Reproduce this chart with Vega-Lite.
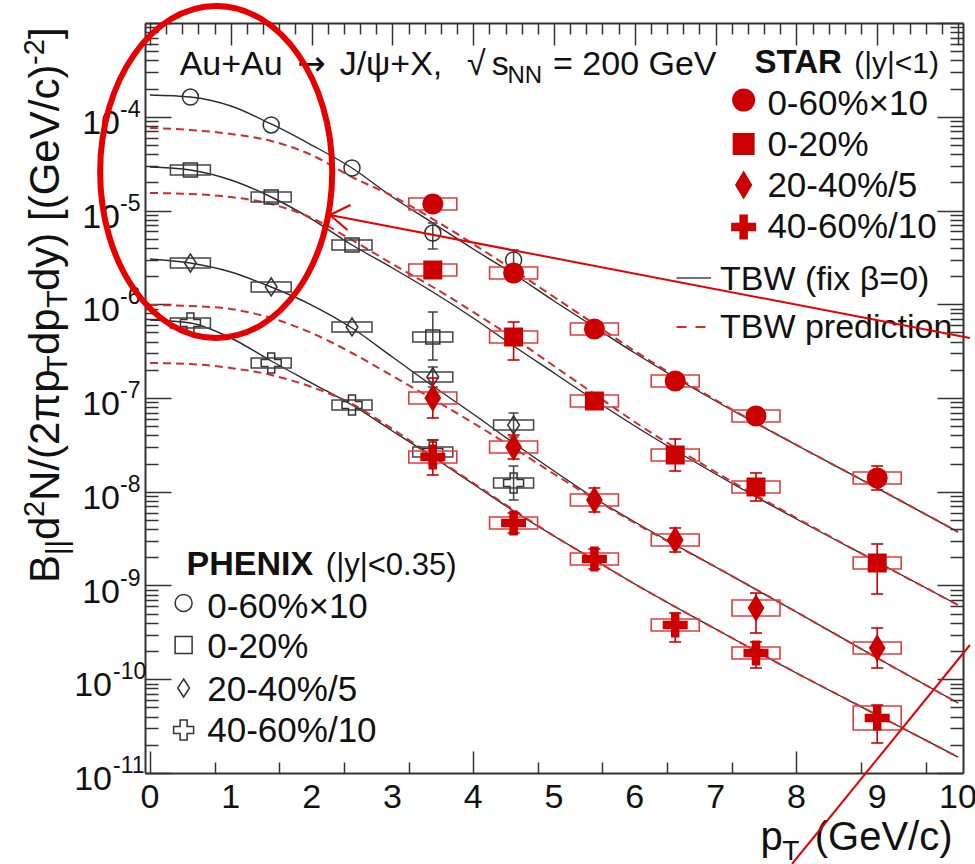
{
  "$schema": "https://vega.github.io/schema/vega-lite/v6.json",
  "width": 818,
  "height": 750,
  "autosize": {"type": "none"},
  "padding": {"left": 145, "top": 23, "right": 12, "bottom": 91},
  "background": "#ffffff",
  "config": {
    "view": {"stroke": null},
    "axis": {"domainColor": "#333333", "domainWidth": 2, "tickColor": "#333333", "tickWidth": 1.5, "labels": false, "grid": false},
    "text": {"font": "Liberation Sans", "fontSize": 34, "align": "left", "baseline": "alphabetic", "color": "#111111"},
    "line": {"interpolate": "monotone"}
  },
  "data": {"values": [{}]},
  "datasets": {
    "curves": [
      {"m": "fix", "c": "0-60%×10", "pt": 0, "y": 1.706e-4}, {"m": "fix", "c": "0-60%×10", "pt": 0.5, "y": 1.624e-4}, {"m": "fix", "c": "0-60%×10", "pt": 1, "y": 1.302e-4}, {"m": "fix", "c": "0-60%×10", "pt": 1.5, "y": 8.37e-5}, {"m": "fix", "c": "0-60%×10", "pt": 2, "y": 4.995e-5}, {"m": "fix", "c": "0-60%×10", "pt": 2.5, "y": 2.84e-5}, {"m": "fix", "c": "0-60%×10", "pt": 3, "y": 1.393e-5}, {"m": "fix", "c": "0-60%×10", "pt": 3.5, "y": 7.356e-6}, {"m": "fix", "c": "0-60%×10", "pt": 4, "y": 3.885e-6}, {"m": "fix", "c": "0-60%×10", "pt": 4.5, "y": 2.102e-6}, {"m": "fix", "c": "0-60%×10", "pt": 5, "y": 1.083e-6}, {"m": "fix", "c": "0-60%×10", "pt": 5.5, "y": 5.72e-7}, {"m": "fix", "c": "0-60%×10", "pt": 6, "y": 3.02e-7}, {"m": "fix", "c": "0-60%×10", "pt": 7, "y": 9.29e-8}, {"m": "fix", "c": "0-60%×10", "pt": 8, "y": 3.153e-8}, {"m": "fix", "c": "0-60%×10", "pt": 9, "y": 1.096e-8}, {"m": "fix", "c": "0-60%×10", "pt": 10, "y": 3.721e-9},
      {"m": "pred", "c": "0-60%×10", "pt": 0, "y": 7.586e-5}, {"m": "pred", "c": "0-60%×10", "pt": 0.5, "y": 7.222e-5}, {"m": "pred", "c": "0-60%×10", "pt": 1, "y": 6.546e-5}, {"m": "pred", "c": "0-60%×10", "pt": 1.5, "y": 5.513e-5}, {"m": "pred", "c": "0-60%×10", "pt": 2, "y": 3.908e-5}, {"m": "pred", "c": "0-60%×10", "pt": 2.5, "y": 2.277e-5}, {"m": "pred", "c": "0-60%×10", "pt": 3, "y": 1.428e-5}, {"m": "pred", "c": "0-60%×10", "pt": 3.5, "y": 8.11e-6}, {"m": "pred", "c": "0-60%×10", "pt": 4, "y": 4.392e-6}, {"m": "pred", "c": "0-60%×10", "pt": 4.5, "y": 2.319e-6}, {"m": "pred", "c": "0-60%×10", "pt": 5, "y": 1.195e-6}, {"m": "pred", "c": "0-60%×10", "pt": 5.5, "y": 6.157e-7}, {"m": "pred", "c": "0-60%×10", "pt": 6, "y": 3.172e-7}, {"m": "pred", "c": "0-60%×10", "pt": 7, "y": 9.52e-8}, {"m": "pred", "c": "0-60%×10", "pt": 8, "y": 3.153e-8}, {"m": "pred", "c": "0-60%×10", "pt": 9, "y": 1.096e-8}, {"m": "pred", "c": "0-60%×10", "pt": 10, "y": 3.721e-9},
      {"m": "fix", "c": "0-20%", "pt": 0, "y": 2.911e-5}, {"m": "fix", "c": "0-20%", "pt": 0.5, "y": 2.704e-5}, {"m": "fix", "c": "0-20%", "pt": 1, "y": 2.115e-5}, {"m": "fix", "c": "0-20%", "pt": 1.5, "y": 1.393e-5}, {"m": "fix", "c": "0-20%", "pt": 2, "y": 8.11e-6}, {"m": "fix", "c": "0-20%", "pt": 2.5, "y": 4.285e-6}, {"m": "fix", "c": "0-20%", "pt": 3, "y": 2.436e-6}, {"m": "fix", "c": "0-20%", "pt": 3.5, "y": 1.351e-6}, {"m": "fix", "c": "0-20%", "pt": 4, "y": 7.135e-7}, {"m": "fix", "c": "0-20%", "pt": 4.5, "y": 3.586e-7}, {"m": "fix", "c": "0-20%", "pt": 5, "y": 1.848e-7}, {"m": "fix", "c": "0-20%", "pt": 5.5, "y": 9.52e-8}, {"m": "fix", "c": "0-20%", "pt": 6, "y": 5.027e-8}, {"m": "fix", "c": "0-20%", "pt": 7, "y": 1.547e-8}, {"m": "fix", "c": "0-20%", "pt": 8, "y": 5.121e-9}, {"m": "fix", "c": "0-20%", "pt": 9, "y": 1.781e-9}, {"m": "fix", "c": "0-20%", "pt": 10, "y": 6.194e-10},
      {"m": "pred", "c": "0-20%", "pt": 0, "y": 1.537e-5}, {"m": "pred", "c": "0-20%", "pt": 0.5, "y": 1.5e-5}, {"m": "pred", "c": "0-20%", "pt": 1, "y": 1.393e-5}, {"m": "pred", "c": "0-20%", "pt": 1.5, "y": 1.173e-5}, {"m": "pred", "c": "0-20%", "pt": 2, "y": 8.318e-6}, {"m": "pred", "c": "0-20%", "pt": 2.5, "y": 4.845e-6}, {"m": "pred", "c": "0-20%", "pt": 3, "y": 2.687e-6}, {"m": "pred", "c": "0-20%", "pt": 3.5, "y": 1.528e-6}, {"m": "pred", "c": "0-20%", "pt": 4, "y": 8.268e-7}, {"m": "pred", "c": "0-20%", "pt": 4.5, "y": 4.365e-7}, {"m": "pred", "c": "0-20%", "pt": 5, "y": 2.194e-7}, {"m": "pred", "c": "0-20%", "pt": 5.5, "y": 1.103e-7}, {"m": "pred", "c": "0-20%", "pt": 6, "y": 5.546e-8}, {"m": "pred", "c": "0-20%", "pt": 7, "y": 1.624e-8}, {"m": "pred", "c": "0-20%", "pt": 8, "y": 5.248e-9}, {"m": "pred", "c": "0-20%", "pt": 9, "y": 1.781e-9}, {"m": "pred", "c": "0-20%", "pt": 10, "y": 6.194e-10},
      {"m": "fix", "c": "20-40%/5", "pt": 0, "y": 3.039e-6}, {"m": "fix", "c": "20-40%/5", "pt": 0.5, "y": 2.754e-6}, {"m": "fix", "c": "20-40%/5", "pt": 1, "y": 2.208e-6}, {"m": "fix", "c": "20-40%/5", "pt": 1.5, "y": 1.528e-6}, {"m": "fix", "c": "20-40%/5", "pt": 2, "y": 9.817e-7}, {"m": "fix", "c": "20-40%/5", "pt": 2.5, "y": 5.581e-7}, {"m": "fix", "c": "20-40%/5", "pt": 3, "y": 2.737e-7}, {"m": "fix", "c": "20-40%/5", "pt": 3.5, "y": 1.343e-7}, {"m": "fix", "c": "20-40%/5", "pt": 4, "y": 6.75e-8}, {"m": "fix", "c": "20-40%/5", "pt": 4.5, "y": 3.311e-8}, {"m": "fix", "c": "20-40%/5", "pt": 5, "y": 1.665e-8}, {"m": "fix", "c": "20-40%/5", "pt": 5.5, "y": 8.577e-9}, {"m": "fix", "c": "20-40%/5", "pt": 6, "y": 4.757e-9}, {"m": "fix", "c": "20-40%/5", "pt": 7, "y": 1.575e-9}, {"m": "fix", "c": "20-40%/5", "pt": 8, "y": 5.215e-10}, {"m": "fix", "c": "20-40%/5", "pt": 9, "y": 1.685e-10}, {"m": "fix", "c": "20-40%/5", "pt": 10, "y": 5.581e-11},
      {"m": "pred", "c": "20-40%/5", "pt": 0, "y": 9.817e-7}, {"m": "pred", "c": "20-40%/5", "pt": 0.5, "y": 9.579e-7}, {"m": "pred", "c": "20-40%/5", "pt": 1, "y": 8.897e-7}, {"m": "pred", "c": "20-40%/5", "pt": 1.5, "y": 7.135e-7}, {"m": "pred", "c": "20-40%/5", "pt": 2, "y": 4.934e-7}, {"m": "pred", "c": "20-40%/5", "pt": 2.5, "y": 3.02e-7}, {"m": "pred", "c": "20-40%/5", "pt": 3, "y": 1.717e-7}, {"m": "pred", "c": "20-40%/5", "pt": 3.5, "y": 9.757e-8}, {"m": "pred", "c": "20-40%/5", "pt": 4, "y": 5.412e-8}, {"m": "pred", "c": "20-40%/5", "pt": 4.5, "y": 2.929e-8}, {"m": "pred", "c": "20-40%/5", "pt": 5, "y": 1.547e-8}, {"m": "pred", "c": "20-40%/5", "pt": 5.5, "y": 8.37e-9}, {"m": "pred", "c": "20-40%/5", "pt": 6, "y": 4.642e-9}, {"m": "pred", "c": "20-40%/5", "pt": 7, "y": 1.575e-9}, {"m": "pred", "c": "20-40%/5", "pt": 8, "y": 5.215e-10}, {"m": "pred", "c": "20-40%/5", "pt": 9, "y": 1.685e-10}, {"m": "pred", "c": "20-40%/5", "pt": 10, "y": 5.581e-11},
      {"m": "fix", "c": "40-60%/10", "pt": 0, "y": 6.792e-7}, {"m": "fix", "c": "40-60%/10", "pt": 0.5, "y": 6.31e-7}, {"m": "fix", "c": "40-60%/10", "pt": 1, "y": 4.365e-7}, {"m": "fix", "c": "40-60%/10", "pt": 1.5, "y": 2.481e-7}, {"m": "fix", "c": "40-60%/10", "pt": 2, "y": 1.445e-7}, {"m": "fix", "c": "40-60%/10", "pt": 2.5, "y": 8.42e-8}, {"m": "fix", "c": "40-60%/10", "pt": 3, "y": 4.446e-8}, {"m": "fix", "c": "40-60%/10", "pt": 3.5, "y": 2.348e-8}, {"m": "fix", "c": "40-60%/10", "pt": 4, "y": 1.21e-8}, {"m": "fix", "c": "40-60%/10", "pt": 4.5, "y": 6.232e-9}, {"m": "fix", "c": "40-60%/10", "pt": 5, "y": 3.373e-9}, {"m": "fix", "c": "40-60%/10", "pt": 5.5, "y": 1.871e-9}, {"m": "fix", "c": "40-60%/10", "pt": 6, "y": 1.038e-9}, {"m": "fix", "c": "40-60%/10", "pt": 7, "y": 3.436e-10}, {"m": "fix", "c": "40-60%/10", "pt": 8, "y": 1.166e-10}, {"m": "fix", "c": "40-60%/10", "pt": 9, "y": 4.156e-11}, {"m": "fix", "c": "40-60%/10", "pt": 10, "y": 1.481e-11},
      {"m": "pred", "c": "40-60%/10", "pt": 0, "y": 2.362e-7}, {"m": "pred", "c": "40-60%/10", "pt": 0.5, "y": 2.305e-7}, {"m": "pred", "c": "40-60%/10", "pt": 1, "y": 2.089e-7}, {"m": "pred", "c": "40-60%/10", "pt": 1.5, "y": 1.759e-7}, {"m": "pred", "c": "40-60%/10", "pt": 2, "y": 1.31e-7}, {"m": "pred", "c": "40-60%/10", "pt": 2.5, "y": 8.63e-8}, {"m": "pred", "c": "40-60%/10", "pt": 3, "y": 4.67e-8}, {"m": "pred", "c": "40-60%/10", "pt": 3.5, "y": 2.406e-8}, {"m": "pred", "c": "40-60%/10", "pt": 4, "y": 1.24e-8}, {"m": "pred", "c": "40-60%/10", "pt": 4.5, "y": 6.386e-9}, {"m": "pred", "c": "40-60%/10", "pt": 5, "y": 3.373e-9}, {"m": "pred", "c": "40-60%/10", "pt": 5.5, "y": 1.871e-9}, {"m": "pred", "c": "40-60%/10", "pt": 6, "y": 1.038e-9}, {"m": "pred", "c": "40-60%/10", "pt": 7, "y": 3.436e-10}, {"m": "pred", "c": "40-60%/10", "pt": 8, "y": 1.166e-10}, {"m": "pred", "c": "40-60%/10", "pt": 9, "y": 4.156e-11}, {"m": "pred", "c": "40-60%/10", "pt": 10, "y": 1.481e-11}
    ],
    "star": [
      {"c": "0-60%×10", "pt": 3.5, "y": 1.173e-5, "elo": 9.64e-6, "ehi": 1.428e-5, "slo": 1.012e-5, "shi": 1.36e-5},
      {"c": "0-60%×10", "pt": 4.5, "y": 2.154e-6, "elo": 1.77e-6, "ehi": 2.621e-6, "slo": 1.859e-6, "shi": 2.497e-6},
      {"c": "0-60%×10", "pt": 5.5, "y": 5.445e-7, "elo": 4.698e-7, "ehi": 6.311e-7, "slo": 4.698e-7, "shi": 6.311e-7},
      {"c": "0-60%×10", "pt": 6.5, "y": 1.518e-7, "elo": 1.31e-7, "ehi": 1.759e-7, "slo": 1.31e-7, "shi": 1.759e-7},
      {"c": "0-60%×10", "pt": 7.5, "y": 6.43e-8, "elo": 5.283e-8, "ehi": 7.825e-8, "slo": 5.548e-8, "shi": 7.452e-8},
      {"c": "0-60%×10", "pt": 9, "y": 1.402e-8, "elo": 1.044e-8, "ehi": 1.883e-8, "slo": 1.21e-8, "shi": 1.625e-8},
      {"c": "0-20%", "pt": 3.5, "y": 2.319e-6, "elo": 1.906e-6, "ehi": 2.822e-6, "slo": 2.001e-6, "shi": 2.688e-6},
      {"c": "0-20%", "pt": 4.5, "y": 4.473e-7, "elo": 2.543e-7, "ehi": 6.463e-7, "slo": 3.859e-7, "shi": 5.184e-7},
      {"c": "0-20%", "pt": 5.5, "y": 9.29e-8, "elo": 8.016e-8, "ehi": 1.077e-7, "slo": 8.016e-8, "shi": 1.077e-7},
      {"c": "0-20%", "pt": 6.5, "y": 2.466e-8, "elo": 1.664e-8, "ehi": 3.655e-8, "slo": 2.128e-8, "shi": 2.858e-8},
      {"c": "0-20%", "pt": 7.5, "y": 1.124e-8, "elo": 7.966e-9, "ehi": 1.586e-8, "slo": 9.698e-9, "shi": 1.303e-8},
      {"c": "0-20%", "pt": 9, "y": 1.738e-9, "elo": 8.118e-10, "ehi": 2.772e-9, "slo": 1.5e-9, "shi": 2.014e-9},
      {"c": "20-40%/5", "pt": 3.5, "y": 1.0e-7, "elo": 6.12e-8, "ehi": 1.634e-7, "slo": 8.628e-8, "shi": 1.159e-7},
      {"c": "20-40%/5", "pt": 4.5, "y": 3.0e-8, "elo": 2.234e-8, "ehi": 4.029e-8, "slo": 2.588e-8, "shi": 3.477e-8},
      {"c": "20-40%/5", "pt": 5.5, "y": 8.17e-9, "elo": 6.083e-9, "ehi": 1.097e-8, "slo": 7.049e-9, "shi": 9.469e-9},
      {"c": "20-40%/5", "pt": 6.5, "y": 3.057e-9, "elo": 2.276e-9, "ehi": 4.106e-9, "slo": 2.638e-9, "shi": 3.543e-9},
      {"c": "20-40%/5", "pt": 7.5, "y": 5.754e-10, "elo": 3.114e-10, "ehi": 8.315e-10, "slo": 4.728e-10, "shi": 7.003e-10},
      {"c": "20-40%/5", "pt": 9, "y": 2.154e-10, "elo": 1.318e-10, "ehi": 3.52e-10, "slo": 1.859e-10, "shi": 2.497e-10},
      {"c": "40-60%/10", "pt": 3.5, "y": 2.348e-8, "elo": 1.509e-8, "ehi": 3.564e-8, "slo": 2.026e-8, "shi": 2.721e-8},
      {"c": "40-60%/10", "pt": 4.5, "y": 4.642e-9, "elo": 3.632e-9, "ehi": 5.932e-9, "slo": 4.005e-9, "shi": 5.38e-9},
      {"c": "40-60%/10", "pt": 5.5, "y": 1.917e-9, "elo": 1.5e-9, "ehi": 2.45e-9, "slo": 1.654e-9, "shi": 2.222e-9},
      {"c": "40-60%/10", "pt": 6.5, "y": 3.79e-10, "elo": 2.497e-10, "ehi": 5.09e-10, "slo": 3.27e-10, "shi": 4.393e-10},
      {"c": "40-60%/10", "pt": 7.5, "y": 1.905e-10, "elo": 1.318e-10, "ehi": 2.496e-10, "slo": 1.644e-10, "shi": 2.208e-10},
      {"c": "40-60%/10", "pt": 9, "y": 3.86e-11, "elo": 2.089e-11, "ehi": 5.311e-11, "slo": 2.874e-11, "shi": 5.184e-11}
    ],
    "phenix": [
      {"c": "0-60%×10", "pt": 0.5, "y": 1.624e-4},
      {"c": "0-60%×10", "pt": 1.5, "y": 8.17e-5},
      {"c": "0-60%×10", "pt": 2.5, "y": 2.84e-5},
      {"c": "0-60%×10", "pt": 3.5, "y": 5.754e-6, "elo": 3.883e-6, "ehi": 7.353e-6},
      {"c": "0-60%×10", "pt": 4.5, "y": 2.965e-6, "elo": 2.622e-6, "ehi": 3.789e-6},
      {"c": "0-20%", "pt": 0.5, "y": 2.704e-5, "slo": 2.391e-5, "shi": 3.058e-5},
      {"c": "0-20%", "pt": 1.5, "y": 1.393e-5, "slo": 1.232e-5, "shi": 1.575e-5},
      {"c": "0-20%", "pt": 2.5, "y": 4.285e-6, "slo": 3.789e-6, "shi": 4.846e-6},
      {"c": "0-20%", "pt": 3.5, "y": 4.473e-7, "elo": 2.543e-7, "ehi": 8.266e-7, "slo": 3.955e-7, "shi": 5.059e-7},
      {"c": "20-40%/5", "pt": 0.5, "y": 2.754e-6, "slo": 2.435e-6, "shi": 3.115e-6},
      {"c": "20-40%/5", "pt": 1.5, "y": 1.528e-6, "slo": 1.351e-6, "shi": 1.728e-6},
      {"c": "20-40%/5", "pt": 2.5, "y": 5.72e-7, "slo": 5.057e-7, "shi": 6.469e-7},
      {"c": "20-40%/5", "pt": 3.5, "y": 1.675e-7, "elo": 1.311e-7, "ehi": 2.141e-7, "slo": 1.481e-7, "shi": 1.894e-7},
      {"c": "20-40%/5", "pt": 4.5, "y": 5.152e-8, "elo": 3.836e-8, "ehi": 6.919e-8, "slo": 4.555e-8, "shi": 5.827e-8},
      {"c": "40-60%/10", "pt": 0.5, "y": 6.31e-7, "slo": 5.579e-7, "shi": 7.137e-7},
      {"c": "40-60%/10", "pt": 1.5, "y": 2.362e-7, "slo": 2.088e-7, "shi": 2.671e-7},
      {"c": "40-60%/10", "pt": 2.5, "y": 8.42e-8, "slo": 7.445e-8, "shi": 9.523e-8},
      {"c": "40-60%/10", "pt": 3.5, "y": 2.655e-8, "elo": 1.977e-8, "ehi": 3.566e-8, "slo": 2.347e-8, "shi": 3.003e-8},
      {"c": "40-60%/10", "pt": 4.5, "y": 1.24e-8, "elo": 8.169e-9, "ehi": 1.882e-8, "slo": 1.096e-8, "shi": 1.402e-8}
    ],
    "decades": [
      {"v": 1e-11, "e": "-11"}, {"v": 1e-10, "e": "-10"}, {"v": 1e-9, "e": "-9"}, {"v": 1e-8, "e": "-8"},
      {"v": 1e-7, "e": "-7"}, {"v": 1e-6, "e": "-6"}, {"v": 1e-5, "e": "-5"}, {"v": 1e-4, "e": "-4"}
    ],
    "xlab": [{"v": 0}, {"v": 1}, {"v": 2}, {"v": 3}, {"v": 4}, {"v": 5}, {"v": 6}, {"v": 7}, {"v": 8}, {"v": 9}, {"v": 10}]
  },
  "layer": [
    {
      "layer": [
        {
          "data": {"name": "curves"},
          "transform": [{"filter": "datum.m == 'fix'"}],
          "mark": {"type": "line", "color": "#2a2a2a", "strokeWidth": 1.4},
          "encoding": {
            "x": {"field": "pt", "type": "quantitative", "scale": {"domain": [0, 10], "nice": false, "zero": false},
              "axis": {"orient": "bottom", "title": null, "labels": false, "grid": false,
                "values": [0,0.2,0.4,0.6,0.8,1,1.2,1.4,1.6,1.8,2,2.2,2.4,2.6,2.8,3,3.2,3.4,3.6,3.8,4,4.2,4.4,4.6,4.8,5,5.2,5.4,5.6,5.8,6,6.2,6.4,6.6,6.8,7,7.2,7.4,7.6,7.8,8,8.2,8.4,8.6,8.8,9,9.2,9.4,9.6,9.8,10],
                "tickSize": {"condition": {"test": "abs(datum.value - round(datum.value)) < 0.01", "value": -22}, "value": -11}}},
            "y": {"field": "y", "type": "quantitative", "scale": {"type": "log", "domain": [1e-11, 1e-3], "nice": false},
              "axis": {"orient": "left", "title": null, "labels": false, "grid": false,
                "values": [1e-11,2e-11,3e-11,4e-11,5e-11,6e-11,7e-11,8e-11,9e-11,1e-10,2e-10,3e-10,4e-10,5e-10,6e-10,7e-10,8e-10,9e-10,1e-9,2e-9,3e-9,4e-9,5e-9,6e-9,7e-9,8e-9,9e-9,1e-8,2e-8,3e-8,4e-8,5e-8,6e-8,7e-8,8e-8,9e-8,1e-7,2e-7,3e-7,4e-7,5e-7,6e-7,7e-7,8e-7,9e-7,1e-6,2e-6,3e-6,4e-6,5e-6,6e-6,7e-6,8e-6,9e-6,1e-5,2e-5,3e-5,4e-5,5e-5,6e-5,7e-5,8e-5,9e-5,1e-4,2e-4,3e-4,4e-4,5e-4,6e-4,7e-4,8e-4,9e-4,1e-3],
                "tickSize": {"condition": {"test": "abs(log(datum.value)/LN10 - round(log(datum.value)/LN10)) < 0.01", "value": -26}, "value": -13}}},
            "detail": {"field": "c"}
          }
        },
        {
          "data": {"name": "curves"},
          "transform": [{"filter": "datum.m == 'pred'"}],
          "mark": {"type": "line", "color": "#d42a2a", "strokeWidth": 2, "strokeDash": [8, 5]},
          "encoding": {"x": {"field": "pt", "type": "quantitative"}, "y": {"field": "y", "type": "quantitative"}, "detail": {"field": "c"}}
        },
        {
          "data": {"name": "phenix"},
          "mark": {"type": "bar", "width": 40, "fill": "transparent", "stroke": "#444444", "strokeWidth": 1.5},
          "encoding": {"x": {"field": "pt", "type": "quantitative"}, "y": {"field": "slo", "type": "quantitative"}, "y2": {"field": "shi"}}
        },
        {
          "data": {"name": "phenix"},
          "mark": {"type": "rule", "color": "#444444", "strokeWidth": 1.5},
          "encoding": {"x": {"field": "pt", "type": "quantitative"}, "y": {"field": "elo", "type": "quantitative"}, "y2": {"field": "ehi"}}
        },
        {
          "data": {"name": "phenix"},
          "transform": [{"fold": ["elo", "ehi"], "as": ["k", "ev"]}],
          "mark": {"type": "point", "shape": "M -1 0 L 1 0", "size": 100, "filled": false, "color": "#444444", "strokeWidth": 1.5, "opacity": 1},
          "encoding": {"x": {"field": "pt", "type": "quantitative"}, "y": {"field": "ev", "type": "quantitative"}}
        },
        {
          "data": {"name": "phenix"}, "transform": [{"filter": "datum.c == '0-60%×10'"}],
          "mark": {"type": "point", "shape": "circle", "size": 256, "filled": false, "color": "#333333", "strokeWidth": 1.5, "opacity": 1},
          "encoding": {"x": {"field": "pt", "type": "quantitative"}, "y": {"field": "y", "type": "quantitative"}}
        },
        {
          "data": {"name": "phenix"}, "transform": [{"filter": "datum.c == '0-20%'"}],
          "mark": {"type": "point", "shape": "square", "size": 196, "filled": false, "color": "#333333", "strokeWidth": 1.5, "opacity": 1},
          "encoding": {"x": {"field": "pt", "type": "quantitative"}, "y": {"field": "y", "type": "quantitative"}}
        },
        {
          "data": {"name": "phenix"}, "transform": [{"filter": "datum.c == '20-40%/5'"}],
          "mark": {"type": "point", "shape": "M 0 -1 L 0.65 0 L 0 1 L -0.65 0 Z", "size": 324, "filled": false, "color": "#333333", "strokeWidth": 1.5, "opacity": 1},
          "encoding": {"x": {"field": "pt", "type": "quantitative"}, "y": {"field": "y", "type": "quantitative"}}
        },
        {
          "data": {"name": "phenix"}, "transform": [{"filter": "datum.c == '40-60%/10'"}],
          "mark": {"type": "point", "shape": "M -0.35 -1 L 0.35 -1 L 0.35 -0.35 L 1 -0.35 L 1 0.35 L 0.35 0.35 L 0.35 1 L -0.35 1 L -0.35 0.35 L -1 0.35 L -1 -0.35 L -0.35 -0.35 Z", "size": 400, "filled": false, "color": "#333333", "strokeWidth": 1.5, "opacity": 1},
          "encoding": {"x": {"field": "pt", "type": "quantitative"}, "y": {"field": "y", "type": "quantitative"}}
        },
        {
          "data": {"name": "star"},
          "mark": {"type": "bar", "width": 48, "fill": "transparent", "stroke": "#e03c3c", "strokeWidth": 1.6},
          "encoding": {"x": {"field": "pt", "type": "quantitative"}, "y": {"field": "slo", "type": "quantitative"}, "y2": {"field": "shi"}}
        },
        {
          "data": {"name": "star"},
          "mark": {"type": "rule", "color": "#cc0000", "strokeWidth": 1.6},
          "encoding": {"x": {"field": "pt", "type": "quantitative"}, "y": {"field": "elo", "type": "quantitative"}, "y2": {"field": "ehi"}}
        },
        {
          "data": {"name": "star"},
          "transform": [{"fold": ["elo", "ehi"], "as": ["k", "ev"]}],
          "mark": {"type": "point", "shape": "M -1 0 L 1 0", "size": 144, "filled": false, "color": "#cc0000", "strokeWidth": 1.6, "opacity": 1},
          "encoding": {"x": {"field": "pt", "type": "quantitative"}, "y": {"field": "ev", "type": "quantitative"}}
        },
        {
          "data": {"name": "star"}, "transform": [{"filter": "datum.c == '0-60%×10'"}],
          "mark": {"type": "point", "shape": "circle", "size": 441, "filled": true, "color": "#cc0000", "opacity": 1},
          "encoding": {"x": {"field": "pt", "type": "quantitative"}, "y": {"field": "y", "type": "quantitative"}}
        },
        {
          "data": {"name": "star"}, "transform": [{"filter": "datum.c == '0-20%'"}],
          "mark": {"type": "point", "shape": "square", "size": 361, "filled": true, "color": "#cc0000", "opacity": 1},
          "encoding": {"x": {"field": "pt", "type": "quantitative"}, "y": {"field": "y", "type": "quantitative"}}
        },
        {
          "data": {"name": "star"}, "transform": [{"filter": "datum.c == '20-40%/5'"}],
          "mark": {"type": "point", "shape": "M 0 -1 L 0.6 0 L 0 1 L -0.6 0 Z", "size": 784, "filled": true, "color": "#cc0000", "opacity": 1},
          "encoding": {"x": {"field": "pt", "type": "quantitative"}, "y": {"field": "y", "type": "quantitative"}}
        },
        {
          "data": {"name": "star"}, "transform": [{"filter": "datum.c == '40-60%/10'"}],
          "mark": {"type": "point", "shape": "M -0.34 -1 L 0.34 -1 L 0.34 -0.34 L 1 -0.34 L 1 0.34 L 0.34 0.34 L 0.34 1 L -0.34 1 L -0.34 0.34 L -1 0.34 L -1 -0.34 L -0.34 -0.34 Z", "size": 625, "filled": true, "color": "#cc0000", "opacity": 1},
          "encoding": {"x": {"field": "pt", "type": "quantitative"}, "y": {"field": "y", "type": "quantitative"}}
        },
        {
          "data": {"name": "decades"}, "transform": [{"filter": "length(datum.e) == 2"}],
          "mark": {"type": "text", "text": "10", "align": "right", "dx": -30, "dy": 17},
          "encoding": {"x": {"datum": 0}, "y": {"field": "v", "type": "quantitative"}}
        },
        {
          "data": {"name": "decades"}, "transform": [{"filter": "length(datum.e) == 2"}],
          "mark": {"type": "text", "fontSize": 23, "align": "left", "dx": -30, "dy": 0},
          "encoding": {"x": {"datum": 0}, "y": {"field": "v", "type": "quantitative"}, "text": {"field": "e"}}
        },
        {
          "data": {"name": "decades"}, "transform": [{"filter": "length(datum.e) == 3"}],
          "mark": {"type": "text", "text": "10", "align": "right", "dx": -38, "dy": 17},
          "encoding": {"x": {"datum": 0}, "y": {"field": "v", "type": "quantitative"}}
        },
        {
          "data": {"name": "decades"}, "transform": [{"filter": "length(datum.e) == 3"}],
          "mark": {"type": "text", "fontSize": 23, "align": "left", "dx": -37, "dy": 0},
          "encoding": {"x": {"datum": 0}, "y": {"field": "v", "type": "quantitative"}, "text": {"field": "e"}}
        },
        {
          "data": {"name": "xlab"},
          "mark": {"type": "text", "align": "center", "dy": 35},
          "encoding": {"x": {"field": "v", "type": "quantitative"}, "y": {"datum": 1e-11}, "text": {"field": "v", "type": "quantitative", "format": "d"}}
        },
        {"mark": {"type": "text", "text": "Au+Au"}, "encoding": {"x": {"datum": 0.367}, "y": {"datum": 2.789e-4}}},
        {"mark": {"type": "text", "text": "→", "font": "DejaVu Sans", "fontSize": 34}, "encoding": {"x": {"datum": 1.822}, "y": {"datum": 2.789e-4}}},
        {"mark": {"type": "text", "text": "J/ψ+X,"}, "encoding": {"x": {"datum": 2.347}, "y": {"datum": 2.789e-4}}},
        {"mark": {"type": "text", "text": "√"}, "encoding": {"x": {"datum": 3.924}, "y": {"datum": 2.789e-4}}},
        {"mark": {"type": "text", "text": "s"}, "encoding": {"x": {"datum": 4.23}, "y": {"datum": 2.789e-4}}},
        {"mark": {"type": "text", "text": "NN", "fontSize": 24}, "encoding": {"x": {"datum": 4.425}, "y": {"datum": 2.291e-4}}},
        {"mark": {"type": "text", "text": "= 200 GeV"}, "encoding": {"x": {"datum": 4.988}, "y": {"datum": 2.789e-4}}},
        {"mark": {"type": "text", "text": "STAR", "fontSize": 33, "fontWeight": "bold"}, "encoding": {"x": {"datum": 7.482}, "y": {"datum": 2.929e-4}}},
        {"mark": {"type": "text", "text": "(|y|<1)", "fontSize": 30}, "encoding": {"x": {"datum": 8.716}, "y": {"datum": 2.929e-4}}},
        {"mark": {"type": "point", "shape": "circle", "size": 529, "filled": true, "color": "#cc0000", "opacity": 1}, "encoding": {"x": {"datum": 7.347}, "y": {"datum": 1.509e-4}}},
        {"mark": {"type": "point", "shape": "square", "size": 484, "filled": true, "color": "#cc0000", "opacity": 1}, "encoding": {"x": {"datum": 7.347}, "y": {"datum": 5.122e-5}}},
        {"mark": {"type": "point", "shape": "M 0 -1 L 0.6 0 L 0 1 L -0.6 0 Z", "size": 841, "filled": true, "color": "#cc0000", "opacity": 1}, "encoding": {"x": {"datum": 7.347}, "y": {"datum": 1.871e-5}}},
        {"mark": {"type": "point", "shape": "M -0.34 -1 L 0.34 -1 L 0.34 -0.34 L 1 -0.34 L 1 0.34 L 0.34 0.34 L 0.34 1 L -0.34 1 L -0.34 0.34 L -1 0.34 L -1 -0.34 L -0.34 -0.34 Z", "size": 625, "filled": true, "color": "#cc0000", "opacity": 1}, "encoding": {"x": {"datum": 7.347}, "y": {"datum": 6.668e-6}}},
        {"mark": {"type": "text", "text": "0-60%×10", "fontSize": 35}, "encoding": {"x": {"datum": 7.641}, "y": {"datum": 1.044e-4}}},
        {"mark": {"type": "text", "text": "0-20%", "fontSize": 35}, "encoding": {"x": {"datum": 7.641}, "y": {"datum": 3.813e-5}}},
        {"mark": {"type": "text", "text": "20-40%/5", "fontSize": 35}, "encoding": {"x": {"datum": 7.641}, "y": {"datum": 1.393e-5}}},
        {"mark": {"type": "text", "text": "40-60%/10", "fontSize": 35}, "encoding": {"x": {"datum": 7.641}, "y": {"datum": 5.089e-6}}},
        {"mark": {"type": "rule", "color": "#444444", "strokeWidth": 1.5}, "encoding": {"x": {"datum": 6.516}, "x2": {"datum": 6.944}, "y": {"datum": 1.905e-6}}},
        {"mark": {"type": "text", "text": "TBW (fix β=0)"}, "encoding": {"x": {"datum": 7.054}, "y": {"datum": 1.419e-6}}},
        {"mark": {"type": "rule", "color": "#d42a2a", "strokeWidth": 2, "strokeDash": [10, 9]}, "encoding": {"x": {"datum": 6.516}, "x2": {"datum": 6.944}, "y": {"datum": 5.72e-7}}},
        {"mark": {"type": "text", "text": "TBW prediction"}, "encoding": {"x": {"datum": 7.054}, "y": {"datum": 4.365e-7}}},
        {"mark": {"type": "text", "text": "PHENIX", "fontSize": 34, "fontWeight": "bold"}, "encoding": {"x": {"datum": 0.452}, "y": {"datum": 1.294e-9}}},
        {"mark": {"type": "text", "text": "(|y|<0.35)", "fontSize": 31}, "encoding": {"x": {"datum": 2.176}, "y": {"datum": 1.294e-9}}},
        {"mark": {"type": "point", "shape": "circle", "size": 289, "filled": false, "color": "#333333", "strokeWidth": 1.5, "opacity": 1}, "encoding": {"x": {"datum": 0.416}, "y": {"datum": 6.506e-10}}},
        {"mark": {"type": "point", "shape": "square", "size": 289, "filled": false, "color": "#333333", "strokeWidth": 1.5, "opacity": 1}, "encoding": {"x": {"datum": 0.416}, "y": {"datum": 2.319e-10}}},
        {"mark": {"type": "point", "shape": "M 0 -1 L 0.65 0 L 0 1 L -0.65 0 Z", "size": 324, "filled": false, "color": "#333333", "strokeWidth": 1.5, "opacity": 1}, "encoding": {"x": {"datum": 0.416}, "y": {"datum": 8.065e-11}}},
        {"mark": {"type": "point", "shape": "M -0.35 -1 L 0.35 -1 L 0.35 -0.35 L 1 -0.35 L 1 0.35 L 0.35 0.35 L 0.35 1 L -0.35 1 L -0.35 0.35 L -1 0.35 L -1 -0.35 L -0.35 -0.35 Z", "size": 400, "filled": false, "color": "#333333", "strokeWidth": 1.5, "opacity": 1}, "encoding": {"x": {"datum": 0.416}, "y": {"datum": 2.875e-11}}},
        {"mark": {"type": "text", "text": "0-60%×10", "fontSize": 35}, "encoding": {"x": {"datum": 0.709}, "y": {"datum": 4.5e-10}}},
        {"mark": {"type": "text", "text": "0-20%", "fontSize": 35}, "encoding": {"x": {"datum": 0.709}, "y": {"datum": 1.685e-10}}},
        {"mark": {"type": "text", "text": "20-40%/5", "fontSize": 35}, "encoding": {"x": {"datum": 0.709}, "y": {"datum": 5.861e-11}}},
        {"mark": {"type": "text", "text": "40-60%/10", "fontSize": 35}, "encoding": {"x": {"datum": 0.709}, "y": {"datum": 2.141e-11}}},
        {"mark": {"type": "text", "text": "p", "fontSize": 40}, "encoding": {"x": {"datum": 7.555}, "y": {"datum": 1.51e-12}}},
        {"mark": {"type": "text", "text": "T", "fontSize": 28}, "encoding": {"x": {"datum": 7.824}, "y": {"datum": 1.18e-12}}},
        {"mark": {"type": "text", "text": "(GeV/c)", "fontSize": 40}, "encoding": {"x": {"datum": 8.227}, "y": {"datum": 1.51e-12}}},
        {"mark": {"type": "text", "text": "B", "fontSize": 42, "angle": 270}, "encoding": {"x": {"datum": -1.125}, "y": {"datum": 1.063e-9}}},
        {"mark": {"type": "text", "text": "||", "fontSize": 29, "angle": 270}, "encoding": {"x": {"datum": -1.027}, "y": {"datum": 2.115e-9}}},
        {"mark": {"type": "text", "text": "d", "fontSize": 42, "angle": 270}, "encoding": {"x": {"datum": -1.125}, "y": {"datum": 3.057e-9}}},
        {"mark": {"type": "text", "text": "2", "fontSize": 29, "angle": 270}, "encoding": {"x": {"datum": -1.308}, "y": {"datum": 5.38e-9}}},
        {"mark": {"type": "text", "text": "N/(2πp", "fontSize": 42, "angle": 270}, "encoding": {"x": {"datum": -1.125}, "y": {"datum": 7.965e-9}}},
        {"mark": {"type": "text", "text": "T", "fontSize": 29, "angle": 270}, "encoding": {"x": {"datum": -1.027}, "y": {"datum": 1.848e-7}}},
        {"mark": {"type": "text", "text": "dp", "fontSize": 42, "angle": 270}, "encoding": {"x": {"datum": -1.125}, "y": {"datum": 2.875e-7}}},
        {"mark": {"type": "text", "text": "T", "fontSize": 29, "angle": 270}, "encoding": {"x": {"datum": -1.027}, "y": {"datum": 9.12e-7}}},
        {"mark": {"type": "text", "text": "dy) [(GeV/c)", "fontSize": 42, "angle": 270}, "encoding": {"x": {"datum": -1.125}, "y": {"datum": 1.385e-6}}},
        {"mark": {"type": "text", "text": "-2", "fontSize": 29, "angle": 270}, "encoding": {"x": {"datum": -1.308}, "y": {"datum": 3.565e-4}}},
        {"mark": {"type": "text", "text": "]", "fontSize": 42, "angle": 270}, "encoding": {"x": {"datum": -1.125}, "y": {"datum": 6.75e-4}}},
        {"mark": {"type": "point", "shape": "M 0 -1 A 0.699 1 0 0 1 0 1 A 0.699 1 0 0 1 0 -1 Z", "size": 110224, "filled": false, "color": "#e80000", "strokeWidth": 6, "opacity": 1}, "encoding": {"x": {"datum": 0.819}, "y": {"datum": 2.575e-5}}},
        {"mark": {"type": "rule", "color": "#e80000", "strokeWidth": 2}, "encoding": {"x": {"datum": 2.225}, "y": {"datum": 8.95e-6}, "x2": {"datum": 10.147}, "y2": {"datum": 4.365e-7}}},
        {"mark": {"type": "rule", "color": "#e80000", "strokeWidth": 2}, "encoding": {"x": {"datum": 2.225}, "y": {"datum": 8.95e-6}, "x2": {"datum": 2.482}, "y2": {"datum": 1.145e-5}}},
        {"mark": {"type": "rule", "color": "#e80000", "strokeWidth": 2}, "encoding": {"x": {"datum": 2.225}, "y": {"datum": 8.95e-6}, "x2": {"datum": 2.445}, "y2": {"datum": 6.19e-6}}},
        {"mark": {"type": "rule", "color": "#e80000", "strokeWidth": 2}, "encoding": {"x": {"datum": 7.946}, "y": {"datum": 1.07e-12}, "x2": {"datum": 10.147}, "y2": {"datum": 2.319e-10}}}
      ]
    },
    {
      "data": {"name": "phenix"},
      "mark": {"type": "point", "opacity": 0},
      "encoding": {
        "x": {"field": "pt", "type": "quantitative",
          "axis": {"orient": "top", "title": null, "labels": false, "grid": false,
            "values": [0,0.2,0.4,0.6,0.8,1,1.2,1.4,1.6,1.8,2,2.2,2.4,2.6,2.8,3,3.2,3.4,3.6,3.8,4,4.2,4.4,4.6,4.8,5,5.2,5.4,5.6,5.8,6,6.2,6.4,6.6,6.8,7,7.2,7.4,7.6,7.8,8,8.2,8.4,8.6,8.8,9,9.2,9.4,9.6,9.8,10],
            "tickSize": {"condition": {"test": "abs(datum.value - round(datum.value)) < 0.01", "value": -22}, "value": -11}}},
        "y": {"field": "y", "type": "quantitative",
          "axis": {"orient": "right", "title": null, "labels": false, "grid": false,
            "values": [1e-11,2e-11,3e-11,4e-11,5e-11,6e-11,7e-11,8e-11,9e-11,1e-10,2e-10,3e-10,4e-10,5e-10,6e-10,7e-10,8e-10,9e-10,1e-9,2e-9,3e-9,4e-9,5e-9,6e-9,7e-9,8e-9,9e-9,1e-8,2e-8,3e-8,4e-8,5e-8,6e-8,7e-8,8e-8,9e-8,1e-7,2e-7,3e-7,4e-7,5e-7,6e-7,7e-7,8e-7,9e-7,1e-6,2e-6,3e-6,4e-6,5e-6,6e-6,7e-6,8e-6,9e-6,1e-5,2e-5,3e-5,4e-5,5e-5,6e-5,7e-5,8e-5,9e-5,1e-4,2e-4,3e-4,4e-4,5e-4,6e-4,7e-4,8e-4,9e-4,1e-3],
            "tickSize": {"condition": {"test": "abs(log(datum.value)/LN10 - round(log(datum.value)/LN10)) < 0.01", "value": -26}, "value": -13}}}
      }
    }
  ],
  "resolve": {"axis": {"x": "independent", "y": "independent"}}
}
